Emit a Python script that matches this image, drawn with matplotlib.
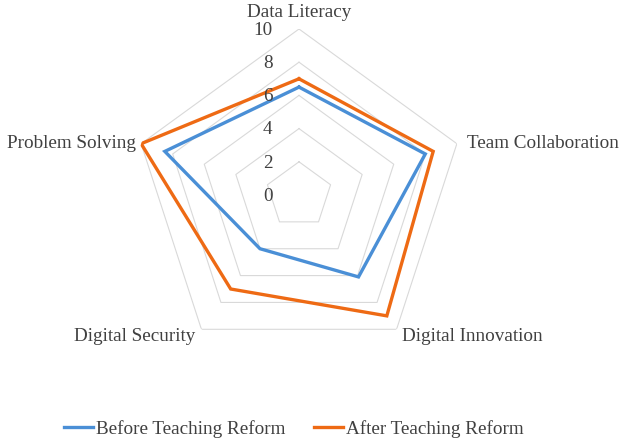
import numpy as np
import matplotlib
matplotlib.use("Agg")
import matplotlib.pyplot as plt
from matplotlib.lines import Line2D

categories = ["Data Literacy", "Team Collaboration", "Digital Innovation",
              "Digital Security", "Problem Solving"]
before = [6.5, 8.0, 6.1, 4.0, 8.5]
after = [7.0, 8.5, 9.0, 7.0, 10.0]
ring_values = [2, 4, 6, 8, 10]
ring_labels = ["0", "2", "4", "6", "8", "10"]
series_names = ["Before Teaching Reform", "After Teaching Reform"]

BLUE = "#4A8FD6"
ORANGE = "#EE6A14"
GRID = "#D9D9D9"
TXT = "#404040"
FONT = "Liberation Serif"
FS = 13.8

fig = plt.figure(figsize=(6.24, 4.43), dpi=100)
fig.patch.set_facecolor("white")
W, H = 624, 443
cx, cy, R = 299, 195, 166
ax = fig.add_axes([(cx - R) / W, (H - cy - R) / H, 2 * R / W, 2 * R / H], projection="polar")
ax.set_theta_offset(np.pi / 2)
ax.set_theta_direction(-1)
ax.set_ylim(0, 10)
ax.grid(False)
ax.spines["polar"].set_visible(False)
ax.set_xticks([])
ax.set_yticks([])
ax.patch.set_alpha(0)

n = len(categories)
theta = np.arange(n) * 2 * np.pi / n
theta_closed = np.append(theta, theta[0])

# ring polygons
for rv in ring_values:
    ax.plot(theta_closed, [rv] * (n + 1), color=GRID, lw=0.8, zorder=1)

ax.plot(theta_closed, before + before[:1], color=BLUE, lw=2.4, zorder=3,
        solid_joinstyle="miter")
ax.plot(theta_closed, after + after[:1], color=ORANGE, lw=2.4, zorder=3,
        solid_joinstyle="miter")

# radial tick labels
for i, lab in enumerate(ring_labels):
    ax.annotate(lab, xy=(0, i * 2), xytext=(-19, -1), textcoords="offset points",
                ha="right", va="center", fontsize=FS, family=FONT, color=TXT,
                annotation_clip=False)

# category labels
offsets = [((0, 12), "center", "center"),
           ((7, 0), "left", "center"),
           ((4, -5), "left", "center"),
           ((-4, -5), "right", "center"),
           ((-4, 0), "right", "center")]
for t, lab, (off, ha, va) in zip(theta, categories, offsets):
    ax.annotate(lab, xy=(t, 10), xytext=off, textcoords="offset points",
                ha=ha, va=va, fontsize=FS, family=FONT, color=TXT,
                annotation_clip=False)

handles = [Line2D([], [], color=BLUE, lw=2.4), Line2D([], [], color=ORANGE, lw=2.4)]
leg = fig.legend(handles, series_names, loc="center", bbox_to_anchor=(0.471, 14 / H),
                 ncol=2, frameon=False, handlelength=1.5, handletextpad=0.15,
                 columnspacing=1.5, prop={"family": FONT, "size": FS})
for t in leg.get_texts():
    t.set_color(TXT)

fig.savefig("out.png", dpi=100)
